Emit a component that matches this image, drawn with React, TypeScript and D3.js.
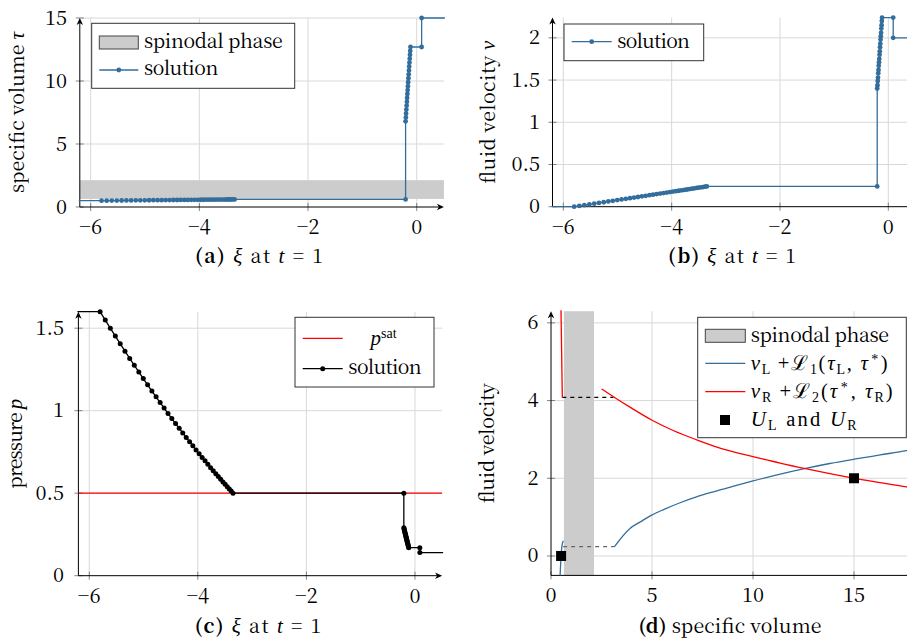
import React from 'react';
import * as d3 from 'd3';

// ---------------- data ----------------
// rarefaction wave samples (xi, tau, v, p)
const xiRare = [-5.800, -5.705, -5.612, -5.520, -5.430, -5.342, -5.255, -5.170, -5.087, -5.005, -4.925, -4.846, -4.769, -4.694, -4.621, -4.549, -4.479, -4.410, -4.343, -4.278, -4.214, -4.152, -4.092, -4.033, -3.976, -3.921, -3.867, -3.815, -3.765, -3.716, -3.669, -3.623, -3.579, -3.537, -3.497, -3.458, -3.421, -3.385, -3.351];
const tauRare = [0.500, 0.504, 0.508, 0.511, 0.515, 0.519, 0.522, 0.526, 0.529, 0.532, 0.536, 0.539, 0.542, 0.545, 0.548, 0.551, 0.554, 0.557, 0.559, 0.562, 0.565, 0.567, 0.570, 0.572, 0.574, 0.577, 0.579, 0.581, 0.583, 0.585, 0.587, 0.589, 0.591, 0.592, 0.594, 0.596, 0.597, 0.599, 0.600];
const vRare = [0, 0.009, 0.018, 0.027, 0.036, 0.045, 0.053, 0.062, 0.070, 0.078, 0.086, 0.093, 0.101, 0.108, 0.115, 0.123, 0.129, 0.136, 0.143, 0.149, 0.155, 0.161, 0.167, 0.173, 0.179, 0.184, 0.189, 0.194, 0.199, 0.204, 0.209, 0.213, 0.218, 0.222, 0.226, 0.229, 0.233, 0.237, 0.240];
const pRare = [1.600, 1.549, 1.500, 1.452, 1.406, 1.361, 1.317, 1.275, 1.235, 1.195, 1.157, 1.119, 1.084, 1.049, 1.016, 0.983, 0.952, 0.922, 0.893, 0.865, 0.838, 0.812, 0.787, 0.762, 0.739, 0.717, 0.696, 0.675, 0.655, 0.636, 0.618, 0.601, 0.584, 0.568, 0.554, 0.539, 0.526, 0.513, 0.500];

// second (dense) wave samples
const xiWave2 = [-0.205, -0.200, -0.196, -0.191, -0.186, -0.181, -0.177, -0.172, -0.167, -0.162, -0.158, -0.153, -0.148, -0.143, -0.139, -0.134, -0.129, -0.124, -0.120, -0.115];
const tauWave2 = [6.80, 7.11, 7.42, 7.73, 8.04, 8.35, 8.66, 8.97, 9.28, 9.59, 9.91, 10.22, 10.53, 10.84, 11.15, 11.46, 11.77, 12.08, 12.39, 12.70];
const vWave2 = [1.40, 1.44, 1.49, 1.53, 1.58, 1.62, 1.67, 1.71, 1.75, 1.80, 1.84, 1.89, 1.93, 1.98, 2.02, 2.06, 2.11, 2.15, 2.20, 2.24];
const pWave2 = [0.290, 0.284, 0.277, 0.271, 0.265, 0.258, 0.252, 0.246, 0.239, 0.233, 0.227, 0.221, 0.214, 0.208, 0.202, 0.195, 0.189, 0.183, 0.176, 0.170];

// constant states [tau, v, p]
const leftState = [0.5, 0, 1.6];
const midState = [0.6, 0.24, 0.5];
const starState = [12.7, 2.24, 0.17];
const rightState = [15, 2, 0.14];
const xiOuter = [-7, 1];
const xiPhase = -0.205;
const xiShock = 0.09;

const spinodal = [0.64, 2.13];
const pSat = 0.5;

// panel (d) curves
const blueVol1 = [0.45, 0.5, 0.54, 0.61];
const blueVel1 = [-0.5, 0, 0.25, 0.39];
const blueVol2 = [3.14, 3.91, 4.4, 4.98, 5.6, 6.39, 7.2, 8.03, 9, 10, 11.3, 12.66, 13.8, 15, 16.3, 17.6, 18];
const blueVel2 = [0.24, 0.71, 0.87, 1.05, 1.2, 1.37, 1.52, 1.65, 1.79, 1.93, 2.1, 2.26, 2.38, 2.49, 2.6, 2.71, 2.74];
const redVol1 = [0.49, 0.56];
const redVel1 = [6.5, 4.08];
const redVol2 = [2.51, 3.09, 3.91, 4.98, 6.05, 7.21, 8.53, 10, 11.34, 12.66, 15, 16.29, 17.6, 18];
const redVel2 = [4.30, 4.10, 3.83, 3.50, 3.23, 2.99, 2.75, 2.56, 2.39, 2.24, 2.0, 1.89, 1.78, 1.75];
const dashTopVol = [0.56, 3.09];
const dashTopVel = [4.08, 4.08];
const dashLowVol = [0.6, 3.14];
const dashLowVel = [0.24, 0.24];
const statesVol = [0.5, 15];
const statesVel = [0, 2];

// ticks
const xiTicks = [-6, -4, -2, 0];
const tauTicks = [0, 5, 10, 15];
const vTicks = [0, 0.5, 1, 1.5, 2];
const pTicks = [0, 0.5, 1, 1.5];
const volTicks = [0, 5, 10, 15];
const velTicks = [0, 2, 4, 6];

// ---------------- helpers ----------------
const FONT = "'Noto Serif CJK SC', 'Liberation Serif', serif";
const MATH = "'Liberation Serif', serif";
const FS = 19.5;
const TFS = 20;
const SUBFS = 14;
const BLUE = '#326d9c';
const RED = '#ff0000';
const GRID = '#d8d8d8';
const BAND = '#cccccc';

const txt = { fontFamily: FONT, fontSize: FS } as const;
const mtxt = { fontFamily: MATH, fontSize: 20.5 } as const;
const it = { fontFamily: MATH, fontStyle: 'italic', fontSize: 21 } as const;
const subSt = { fontFamily: FONT, fontSize: SUBFS } as const;
const msub = { fontFamily: MATH, fontSize: SUBFS } as const;

const fmt = (v: number) => (v < 0 ? '\u2212' : '') + String(Math.abs(v));
const zip = (a: number[], b: number[]): [number, number][] => {
  const n = Math.min(a.length, b.length);
  const out: [number, number][] = [];
  for (let i = 0; i < n; i++) out.push([a[i], b[i]]);
  return out;
};

function solution(k: number, rare: number[], wave2: number[]): [number, number][] {
  const xs = [xiOuter[0], ...xiRare, xiPhase, ...xiWave2, xiShock, xiShock, xiOuter[1]];
  const ys = [leftState[k], ...rare, midState[k], ...wave2, starState[k], rightState[k], rightState[k]];
  return zip(xs, ys);
}

type Sc = d3.ScaleLinear<number, number>;

function Grid({ x, y, xt, yt }: { x: Sc; y: Sc; xt: number[]; yt: number[] }) {
  const [x0, x1] = x.range();
  const [y0, y1] = y.range();
  const xd = x.domain();
  const yd = y.domain();
  return (
    <g stroke={GRID} strokeWidth={1}>
      {xt.filter(t => Math.abs(t - xd[0]) > 1e-9).map(t => (
        <line key={'gx' + t} x1={x(t)} x2={x(t)} y1={y0} y2={y1} />
      ))}
      {yt.filter(t => Math.abs(t - yd[0]) > 1e-9).map(t => (
        <line key={'gy' + t} x1={x0} x2={x1} y1={y(t)} y2={y(t)} />
      ))}
    </g>
  );
}

function Axes({ x, y, xt, yt, yLabAnchor }: { x: Sc; y: Sc; xt: number[]; yt: number[]; yLabAnchor: number }) {
  const [x0, x1] = x.range();
  const [y0, y1] = y.range();
  const ts = { fontFamily: FONT, fontSize: TFS } as const;
  return (
    <g>
      <g stroke="#666" strokeWidth={0.8}>
        {xt.map(t => <line key={'tx' + t} x1={x(t)} x2={x(t)} y1={y0 - 4} y2={y0 + 4} />)}
        {yt.map(t => <line key={'ty' + t} x1={x0 - 4} x2={x0 + 4} y1={y(t)} y2={y(t)} />)}
      </g>
      <line x1={x0} x2={x1 - 3} y1={y0} y2={y0} stroke="#000" strokeWidth={1} />
      <line x1={x0} x2={x0} y1={y0} y2={y1 + 3} stroke="#000" strokeWidth={1} />
      <path d={`M${x1 - 7},${y0 - 3.2} L${x1},${y0} L${x1 - 7},${y0 + 3.2} L${x1 - 5},${y0} Z`} fill="#000" />
      <path d={`M${x0 - 3.2},${y1 + 7} L${x0},${y1} L${x0 + 3.2},${y1 + 7} L${x0},${y1 + 5} Z`} fill="#000" />
      <g fill="#000">
        {xt.map(t => (
          <text key={'lx' + t} x={x(t)} y={y0 + 27} textAnchor="middle" style={ts}>{fmt(t)}</text>
        ))}
        {yt.map(t => (
          <text key={'ly' + t} x={yLabAnchor} y={y(t) + 6.5} textAnchor="end" style={ts}>{fmt(t)}</text>
        ))}
      </g>
    </g>
  );
}

function inDomain(x: Sc, y: Sc, p: [number, number]) {
  const xd = x.domain();
  const yd = y.domain();
  return p[0] >= xd[0] - 1e-9 && p[0] <= xd[1] + 1e-9 && p[1] >= yd[0] - 1e-9 && p[1] <= yd[1] + 1e-9;
}

function SolLine({ x, y, pts, color, clip, r }: { x: Sc; y: Sc; pts: [number, number][]; color: string; clip: string; r: number }) {
  const line = d3.line<[number, number]>().x(d => x(d[0])).y(d => y(d[1]));
  return (
    <g>
      <path d={line(pts) || ''} fill="none" stroke={color} strokeWidth={1.3} clipPath={`url(#${clip})`} />
      {pts.filter(p => inDomain(x, y, p)).map((p, i) => (
        <circle key={i} cx={x(p[0])} cy={y(p[1])} r={r} fill={color} />
      ))}
    </g>
  );
}

function ClipRect({ id, x, y }: { id: string; x: Sc; y: Sc }) {
  const [x0, x1] = x.range();
  const [y0, y1] = y.range();
  return (
    <clipPath id={id}>
      <rect x={x0 - 1} y={y1 - 1} width={x1 - x0 + 2} height={y0 - y1 + 2} />
    </clipPath>
  );
}

export default function App() {
  // panel scales
  const xa = d3.scaleLinear().domain([-6.2, 0.5]).range([79.8, 443.9]);
  const ya = d3.scaleLinear().domain([0, 15]).range([207, 18]);
  const xb = d3.scaleLinear().domain([-6.2, 0.5]).range([552.5, 915.4]);
  const yb = d3.scaleLinear().domain([0, 2.24]).range([206.7, 17.6]);
  const xc = d3.scaleLinear().domain([-6.2, 0.5]).range([78.4, 442.1]);
  const yc = d3.scaleLinear().domain([0, 1.6]).range([575.7, 311.7]);
  const xd = d3.scaleLinear().domain([0, 18]).range([551, 914.6]);
  const yd = d3.scaleLinear().domain([-0.5, 6.3]).range([575.4, 311.2]);

  const solTau = solution(0, tauRare, tauWave2);
  const solV = solution(1, vRare, vWave2);
  const solP = solution(2, pRare, pWave2);

  const lineD = d3.line<[number, number]>().x(d => xd(d[0])).y(d => yd(d[1]));
  const curveD = d3.line<[number, number]>().x(d => xd(d[0])).y(d => yd(d[1])).curve(d3.curveMonotoneX);

  const sub = (s: string) => (
    <tspan style={msub} dy={3.5}>{s}</tspan>
  );
  const caption = (lab: string) => (
    <>
      <tspan style={{ fontWeight: 'bold' }}>{lab}</tspan> <tspan style={it}>ξ</tspan> at <tspan style={it}>t</tspan> = 1
    </>
  );

  return (
    <svg width={907} height={640} style={{ position: 'absolute', left: 0, top: 0, background: '#fff', fontFamily: FONT }}>
      <defs>
        <ClipRect id="ca" x={xa} y={ya} />
        <ClipRect id="cb" x={xb} y={yb} />
        <ClipRect id="cc" x={xc} y={yc} />
        <ClipRect id="cd" x={xd} y={yd} />
      </defs>
      <rect x={0} y={0} width={907} height={640} fill="#fff" />

      {/* ---------- (a) ---------- */}
      <Grid x={xa} y={ya} xt={xiTicks} yt={tauTicks} />
      <rect x={xa(-6.2)} y={ya(spinodal[1])} width={xa(0.5) - xa(-6.2)} height={ya(spinodal[0]) - ya(spinodal[1])} fill={BAND} />
      <Axes x={xa} y={ya} xt={xiTicks} yt={tauTicks} yLabAnchor={67} />
      <SolLine x={xa} y={ya} pts={solTau} color={BLUE} clip="ca" r={2.4} />
      <g>
        <rect x={91.7} y={23.3} width={203} height={65} fill="#fff" stroke="#333" strokeWidth={1} />
        <rect x={99.3} y={36} width={39} height={13} fill={BAND} stroke="#444" strokeWidth={1} />
        <line x1={99.3} x2={138.3} y1={70} y2={70} stroke={BLUE} strokeWidth={1.3} />
        <circle cx={118.8} cy={70} r={2.4} fill={BLUE} />
        <text x={144} y={48} style={txt} textLength={138.7} lengthAdjust="spacing">spinodal phase</text>
        <text x={144} y={75} style={txt} textLength={74.3} lengthAdjust="spacing">solution</text>
      </g>
      <text transform={`translate(24,${(207 + 18) / 2}) rotate(-90)`} textAnchor="middle" style={txt} textLength={161} lengthAdjust="spacing">
        specific volume <tspan style={it}>τ</tspan>
      </text>
      <text x={259} y={263} textAnchor="middle" style={txt} textLength={128} lengthAdjust="spacing">
        {caption('(a)')}
      </text>

      {/* ---------- (b) ---------- */}
      <Grid x={xb} y={yb} xt={xiTicks} yt={vTicks} />
      <Axes x={xb} y={yb} xt={xiTicks} yt={vTicks} yLabAnchor={540} />
      <SolLine x={xb} y={yb} pts={solV} color={BLUE} clip="cb" r={2.4} />
      <g>
        <rect x={564} y={24} width={139.7} height={36.7} fill="#fff" stroke="#333" strokeWidth={1} />
        <line x1={571.7} x2={611.7} y1={41.7} y2={41.7} stroke={BLUE} strokeWidth={1.3} />
        <circle cx={591.7} cy={41.7} r={2.4} fill={BLUE} />
        <text x={617.3} y={48} style={txt} textLength={72.7} lengthAdjust="spacing">solution</text>
      </g>
      <text transform={`translate(495,${(206.7 + 17.6) / 2}) rotate(-90)`} textAnchor="middle" style={txt} textLength={143} lengthAdjust="spacing">
        fluid velocity <tspan style={it}>v</tspan>
      </text>
      <text x={732} y={263} textAnchor="middle" style={txt} textLength={128} lengthAdjust="spacing">
        {caption('(b)')}
      </text>

      {/* ---------- (c) ---------- */}
      <Grid x={xc} y={yc} xt={xiTicks} yt={pTicks} />
      <Axes x={xc} y={yc} xt={xiTicks} yt={pTicks} yLabAnchor={64} />
      <line x1={xc(-6.2)} x2={xc(0.5)} y1={yc(pSat)} y2={yc(pSat)} stroke={RED} strokeWidth={1.3} />
      <SolLine x={xc} y={yc} pts={solP} color="#000" clip="cc" r={2.5} />
      <g>
        <rect x={295} y={317.3} width={139} height={69.7} fill="#fff" stroke="#333" strokeWidth={1} />
        <line x1={302.7} x2={342.7} y1={338.3} y2={338.3} stroke={RED} strokeWidth={1.3} />
        <line x1={302.7} x2={342.7} y1={368.7} y2={368.7} stroke="#000" strokeWidth={1.3} />
        <circle cx={322.7} cy={368.7} r={2.5} fill="#000" />
        <text x={383.5} y={345} textAnchor="middle" style={mtxt}>
          <tspan style={it}>p</tspan><tspan style={msub} dy={-7}>sat</tspan>
        </text>
        <text x={385} y={374} textAnchor="middle" style={txt} textLength={73.4} lengthAdjust="spacing">solution</text>
      </g>
      <text transform={`translate(22,${(575.7 + 311.7) / 2}) rotate(-90)`} textAnchor="middle" style={txt} textLength={90} lengthAdjust="spacing">
        pressure <tspan style={it}>p</tspan>
      </text>
      <text x={258} y={633} textAnchor="middle" style={txt} textLength={126.7} lengthAdjust="spacing">
        {caption('(c)')}
      </text>

      {/* ---------- (d) ---------- */}
      <Grid x={xd} y={yd} xt={volTicks} yt={velTicks} />
      <rect x={xd(spinodal[0])} y={yd(6.3)} width={xd(spinodal[1]) - xd(spinodal[0])} height={yd(-0.5) - yd(6.3)} fill={BAND} />
      <Axes x={xd} y={yd} xt={volTicks} yt={velTicks} yLabAnchor={538.5} />
      <g clipPath="url(#cd)" fill="none" strokeWidth={1.3}>
        <path d={lineD(zip(dashTopVol, dashTopVel)) || ''} stroke="#000" strokeDasharray="4 4" />
        <path d={lineD(zip(dashLowVol, dashLowVel)) || ''} stroke="#666" strokeDasharray="4 4" />
        <path d={curveD(zip(blueVol1, blueVel1)) || ''} stroke={BLUE} />
        <path d={curveD(zip(blueVol2, blueVel2)) || ''} stroke={BLUE} />
        <path d={lineD(zip(redVol1, redVel1)) || ''} stroke={RED} />
        <path d={curveD(zip(redVol2, redVel2)) || ''} stroke={RED} />
      </g>
      {zip(statesVol, statesVel).map((p, i) => (
        <rect key={'st' + i} x={xd(p[0]) - 5} y={yd(p[1]) - 5} width={10} height={10} fill="#000" />
      ))}
      <g>
        <rect x={697.7} y={317.3} width={208.6} height={120.4} fill="#fff" stroke="#333" strokeWidth={1} />
        <rect x={705.3} y={329.3} width={40} height={13} fill={BAND} stroke="#444" strokeWidth={1} />
        <line x1={705.3} x2={745.3} y1={363.3} y2={363.3} stroke={BLUE} strokeWidth={1.3} />
        <line x1={705.3} x2={745.3} y1={391.7} y2={391.7} stroke={RED} strokeWidth={1.3} />
        <rect x={720} y={415} width={10} height={10} fill="#000" />
        <text x={750.7} y={341.7} style={txt} textLength={138.3} lengthAdjust="spacing">spinodal phase</text>
        <text x={750.7} y={370} style={mtxt} textLength={137} lengthAdjust="spacing">
          <tspan style={it}>v</tspan>{sub('L')}<tspan dy={-3.5}>{'\u2009+ℒ'}</tspan>{sub('1')}<tspan dy={-3.5}>(</tspan><tspan style={it}>τ</tspan>{sub('L')}<tspan dy={-3.5}>, </tspan><tspan style={it}>τ</tspan><tspan style={msub} dx={1.5} dy={-6}>*</tspan><tspan dx={1} dy={6}>)</tspan>
        </text>
        <text x={750.7} y={398} style={mtxt} textLength={142} lengthAdjust="spacing">
          <tspan style={it}>v</tspan>{sub('R')}<tspan dy={-3.5}>{'\u2009+ℒ'}</tspan>{sub('2')}<tspan dy={-3.5}>(</tspan><tspan style={it}>τ</tspan><tspan style={msub} dx={1.5} dy={-6}>*</tspan><tspan dx={1} dy={6}>, </tspan><tspan style={it}>τ</tspan>{sub('R')}<tspan dy={-3.5}>)</tspan>
        </text>
        <text x={750.7} y={426} style={mtxt} textLength={106} lengthAdjust="spacing">
          <tspan style={it}>U</tspan>{sub('L')}<tspan dy={-3.5}> and </tspan><tspan style={it}>U</tspan>{sub('R')}
        </text>
      </g>
      <text transform={`translate(494,${(575.4 + 311.2) / 2}) rotate(-90)`} textAnchor="middle" style={txt} textLength={120} lengthAdjust="spacing">
        fluid velocity
      </text>
      <text x={730} y={633} textAnchor="middle" style={txt} textLength={183} lengthAdjust="spacing">
        <tspan style={{ fontWeight: 'bold' }}>(d)</tspan> specific volume
      </text>
    </svg>
  );
}
